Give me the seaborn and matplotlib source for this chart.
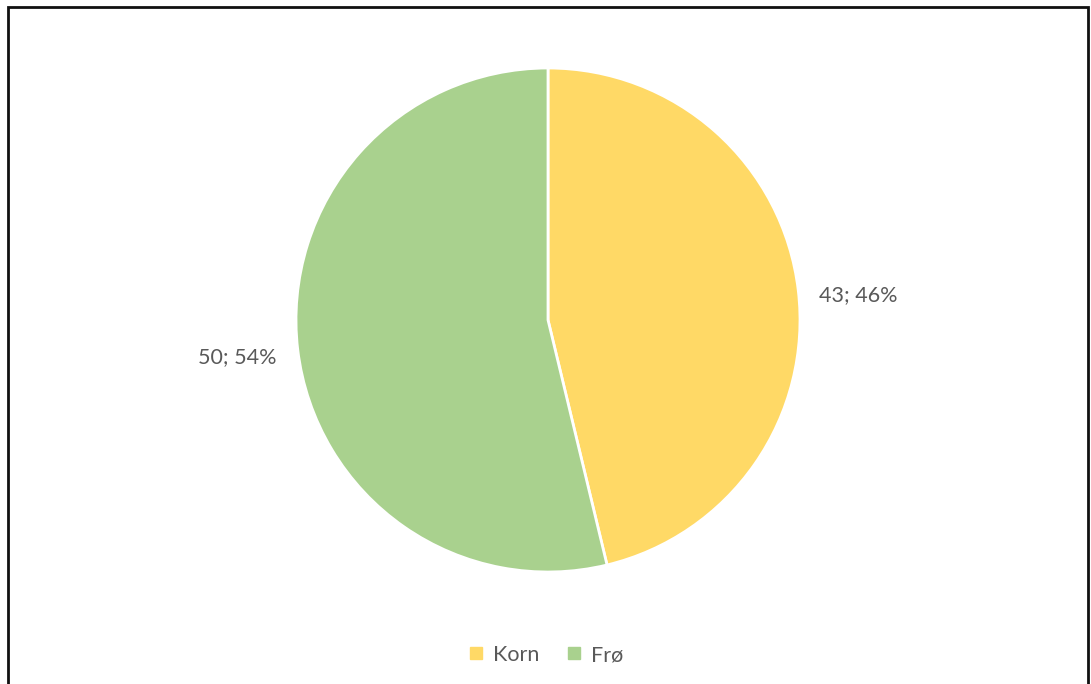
import matplotlib
matplotlib.use("Agg")
import matplotlib.pyplot as plt
import matplotlib.transforms as mtransforms
from matplotlib.patches import Rectangle
import seaborn as sns

categories = ["Korn", "Frø"]
values = [43, 50]
colors = ["#FFD966", "#A9D18E"]

sns.set_theme(style="white")
plt.rcParams["font.family"] = ["Lato", "DejaVu Sans"]

fig = plt.figure(figsize=(10.91, 6.84), dpi=100)
fig.patch.set_facecolor("white")

# Pie area, square in pixels
ax = fig.add_axes([296 / 1091, 112 / 684, 504 / 1091, 504 / 684])
total = sum(values)
labels = [f"{v}; {round(100 * v / total)}%" for v in values]
wedges, texts = ax.pie(
    values,
    colors=colors,
    startangle=90,
    counterclock=False,
    labels=labels,
    labeldistance=1.24,
    wedgeprops=dict(edgecolor="white", linewidth=2),
    textprops=dict(color="#595959", fontsize=15.5),
)
for t in texts:
    t.set_horizontalalignment("center")
    t.set_clip_on(False)
# the right-hand label sits a little lower, near the slice's widest point
texts[0].set_transform(texts[0].get_transform()
                       + mtransforms.ScaledTranslation(0, -0.12, fig.dpi_scale_trans))
ax.set_xlim(-1, 1)
ax.set_ylim(-1, 1)
ax.set_aspect("equal")

# Legend with small square markers
handles = [
    plt.Line2D([0], [0], marker="s", linestyle="", markersize=8,
               markerfacecolor=c, markeredgecolor=c)
    for c in colors
]
fig.legend(handles, categories, loc="center", bbox_to_anchor=(0.5, 1 - 655 / 684),
           ncol=2, frameon=False, fontsize=15.5, handlelength=0.8,
           handletextpad=0.4, columnspacing=1.2, labelcolor="#595959")

# Outer frame
fig.add_artist(Rectangle((7.5 / 1091, -0.05), (1088 - 7.5) / 1091, 1.05 - 6.5 / 684,
                         transform=fig.transFigure, fill=False,
                         edgecolor="#111111", linewidth=2))

fig.savefig("out.png", dpi=100, facecolor="white")
